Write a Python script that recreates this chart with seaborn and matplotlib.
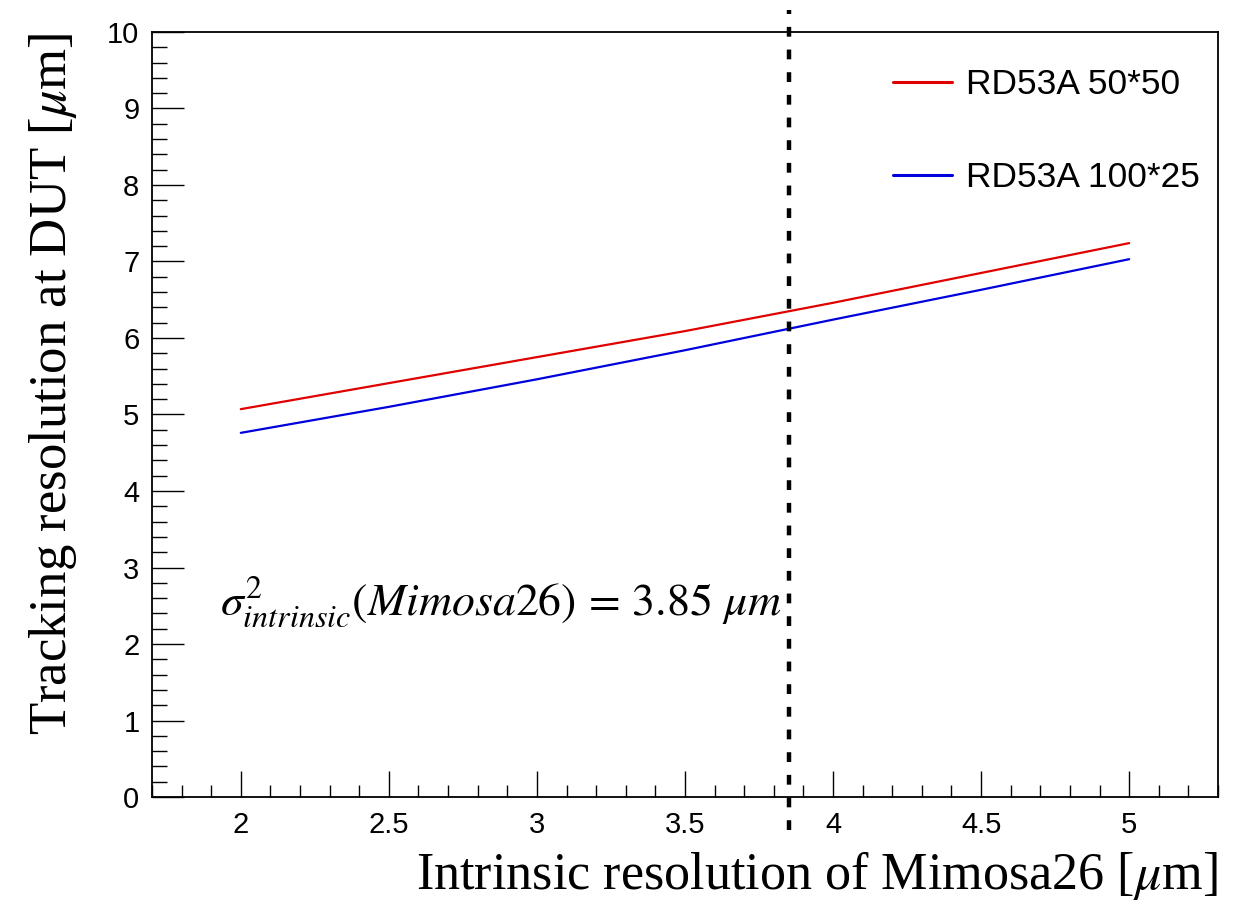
import pandas as pd
import numpy as np
import matplotlib
matplotlib.use("Agg")
import matplotlib.pyplot as plt
import seaborn as sns
from matplotlib.ticker import MultipleLocator

# Values
x_vals = [2.0, 2.5, 3.0, 3.5, 4.0, 4.5, 5.0]
res_50x50 = [5.07, 5.41, 5.75, 6.09, 6.46, 6.85, 7.24]
res_100x25 = [4.76, 5.10, 5.46, 5.84, 6.24, 6.63, 7.03]
series_names = ["RD53A 50*50", "RD53A 100*25"]
mimosa_res = 3.85

df = pd.DataFrame({
    "x": x_vals * 2,
    "y": res_50x50 + res_100x25,
    "sensor": [series_names[0]] * len(x_vals) + [series_names[1]] * len(x_vals),
})

sns.set_theme(style="ticks")
plt.rcParams["font.family"] = ["Liberation Sans", "DejaVu Sans"]
plt.rcParams["mathtext.fontset"] = "stix"
plt.rcParams["text.color"] = "black"
plt.rcParams["axes.labelcolor"] = "black"
plt.rcParams["xtick.color"] = "black"
plt.rcParams["ytick.color"] = "black"

fig = plt.figure(figsize=(12.55, 9.06), dpi=100)
ax = fig.add_axes([0.1211, 0.1203, 0.8494, 0.8444])

sns.lineplot(data=df, x="x", y="y", hue="sensor",
             palette={series_names[0]: "#e00000", series_names[1]: "#0000dd"},
             linewidth=1.6, ax=ax)

# vertical dashed line at Mimosa26 resolution
ax.axvline(mimosa_res, ymin=-0.043, ymax=1.029, color="black", lw=3.2,
           dashes=(2.2, 2.9), clip_on=False)

ax.text(1.93, 2.55, r"$\sigma^{2}_{intrinsic}(Mimosa26)\,=\,3.85\ \mu m$",
        fontsize=33, va="center", ha="left")

ax.set_xlim(1.7, 5.3)
ax.set_ylim(0, 10)
ax.xaxis.set_major_locator(MultipleLocator(0.5))
ax.xaxis.set_minor_locator(MultipleLocator(0.1))
ax.yaxis.set_major_locator(MultipleLocator(1))
ax.yaxis.set_minor_locator(MultipleLocator(0.2))
ax.set_xticks([2, 2.5, 3, 3.5, 4, 4.5, 5])
ax.set_xticklabels(["2", "2.5", "3", "3.5", "4", "4.5", "5"])
ax.set_yticks(range(0, 11))
ax.set_yticklabels([str(i) for i in range(0, 11)])

ax.tick_params(axis="x", which="major", direction="in", length=19, width=1, labelsize=21, pad=10)
ax.tick_params(axis="x", which="minor", direction="in", length=9, width=1)
ax.tick_params(axis="y", which="major", direction="in", length=23, width=1, labelsize=21, pad=9)
ax.tick_params(axis="y", which="minor", direction="in", length=11, width=1)

for sp in ax.spines.values():
    sp.set_visible(True)
    sp.set_color("black")
    sp.set_linewidth(1.3)

ax.set_xlabel("Intrinsic resolution of Mimosa26 [$\\mu$m]", fontsize=37.5,
              family="Liberation Serif", loc="right", labelpad=7)
ax.set_ylabel("Tracking resolution at DUT [$\\mu$m]", fontsize=38,
              family="Liberation Serif", loc="top", labelpad=20)

leg = ax.legend(frameon=False, loc="upper right", fontsize=25.5,
                handlelength=1.65, handletextpad=0.4, labelspacing=1.7,
                bbox_to_anchor=(1.006, 0.985), borderaxespad=0.3)
for h in leg.get_lines():
    h.set_linewidth(2.2)

fig.savefig("out.png", dpi=100)
